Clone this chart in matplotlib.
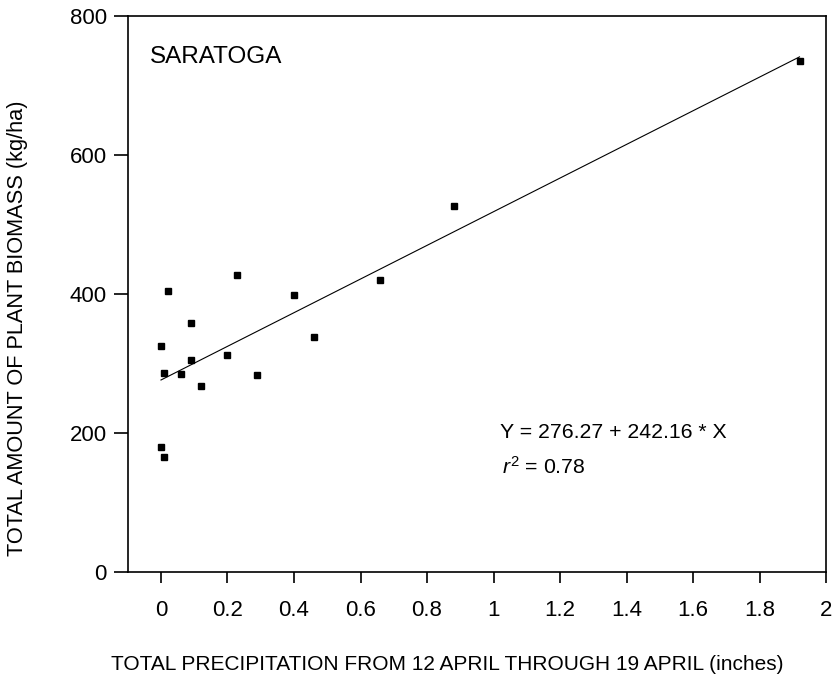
import matplotlib
matplotlib.use("Agg")
import matplotlib.pyplot as plt
import numpy as np

plt.rcParams['font.family'] = ['Liberation Sans', 'DejaVu Sans']
plt.rcParams['mathtext.fontset'] = 'custom'
plt.rcParams['mathtext.rm'] = 'Liberation Sans'
plt.rcParams['mathtext.it'] = 'Liberation Sans:italic'

precip = [0.02, 0.23, 0.40, 0.09, 0.00, 0.46, 0.20, 0.09, 0.01, 0.06, 0.29, 0.12,
          0.00, 0.01, 0.66, 0.88, 1.92]
biomass = [404, 427, 398, 359, 325, 338, 312, 305, 287, 285, 283, 267,
           180, 165, 420, 527, 735]
intercept = 276.27
slope = 242.16
xticks = [0, 0.2, 0.4, 0.6, 0.8, 1, 1.2, 1.4, 1.6, 1.8, 2]
xticklabels = ['0', '0.2', '0.4', '0.6', '0.8', '1', '1.2', '1.4', '1.6', '1.8', '2']
yticks = [0, 200, 400, 600, 800]

fig = plt.figure(figsize=(8.37, 6.79), dpi=100)
ax = fig.add_axes([0.1526, 0.1576, 0.987 - 0.1526, 0.9764 - 0.1576])

ax.plot(precip, biomass, 's', color='black', markersize=3.8, zorder=3)
xl = np.array([min(precip), max(precip)])
ax.plot(xl, intercept + slope * xl, color='black', linewidth=0.8)

ax.set_xlim(-0.1, 2.0)
ax.set_ylim(0, 800)
ax.set_xticks(xticks)
ax.set_xticklabels(xticklabels)
ax.set_yticks(yticks)
ax.tick_params(direction='out', width=1.2, labelsize=16)
ax.tick_params(axis='x', length=8, pad=12)
ax.tick_params(axis='y', length=10, pad=5)
for s in ax.spines.values():
    s.set_linewidth(1.2)

fig.text(447 / 837, 1 - 665 / 679,
         'TOTAL PRECIPITATION FROM 12 APRIL THROUGH 19 APRIL (inches)',
         fontsize=15, ha='center', va='center')
fig.text(18 / 837, 1 - 328 / 679, 'TOTAL AMOUNT OF PLANT BIOMASS (kg/ha)',
         fontsize=15.7, ha='center', va='center', rotation=90)

ax.text(-0.033, 741, 'SARATOGA', fontsize=17.5, va='center', ha='left')
ax.text(1.02, 201, 'Y = 276.27 + 242.16 * X', fontsize=15.3, va='center', ha='left')
ax.text(1.025, 151, '$r^2$ = 0.78', fontsize=15.3, va='center', ha='left')

fig.savefig('out.png', dpi=100)
